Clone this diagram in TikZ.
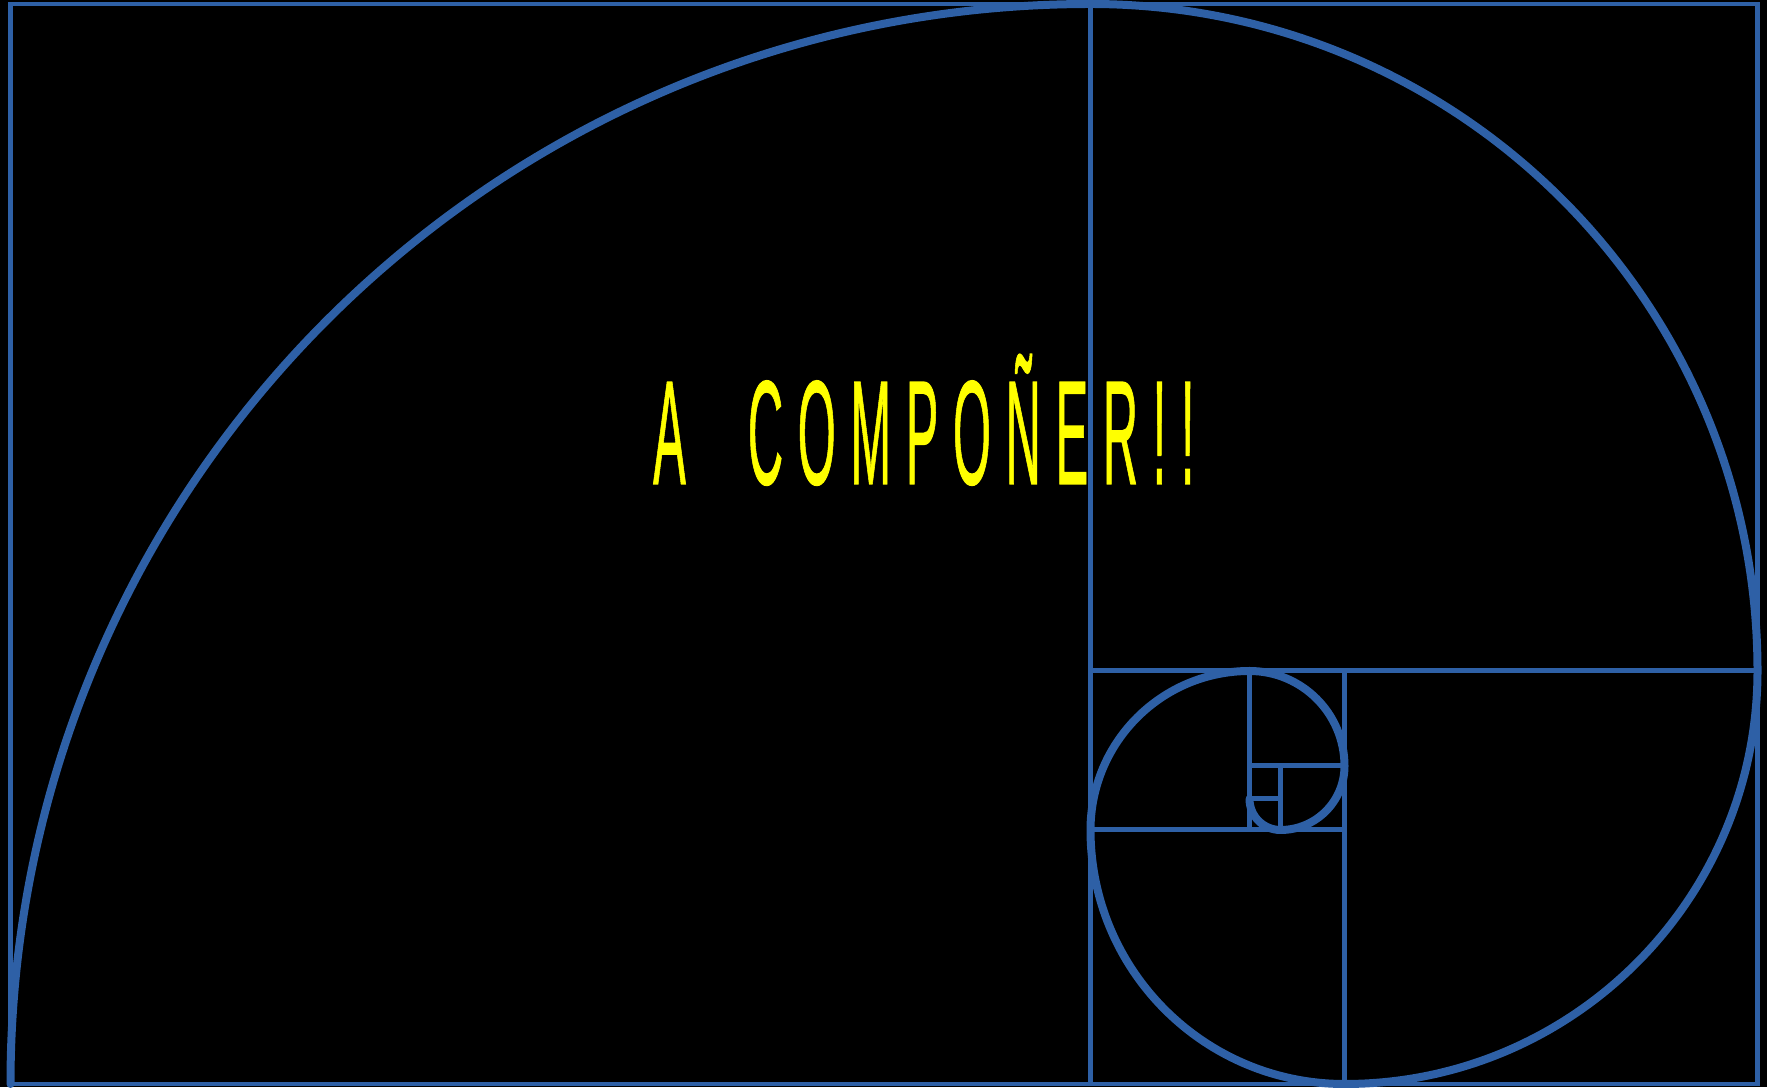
\documentclass[tikz,border=0pt]{standalone}
\usepackage{fontspec}
\setmainfont{Liberation Sans}
\newfontfamily\titlefont[LetterSpace=30,WordSpace=2.2,FakeBold=1]{Liberation Sans}
\definecolor{spiralblue}{RGB}{46,96,166}
\definecolor{textyellow}{RGB}{255,255,0}
\begin{document}
\begin{tikzpicture}[x=1pt,y=1pt,
  gridline/.style={draw=spiralblue,line width=5pt},
  framebox/.style={draw=spiralblue,line width=4.5pt},
  spiralline/.style={draw=spiralblue,line width=8pt,line cap=round},
  titlelabel/.style={text=textyellow,inner sep=0pt,font=\titlefont\fontsize{148}{150}\selectfont}]
\fill[black] (0,0) rectangle (1767,1087);
\useasboundingbox (0,0) rectangle (1767,1087);
% squares
\draw[gridline] (1090.5,3) -- (1090.5,1083);
\draw[gridline] (1090.5,416) -- (1757.5,416);
\draw[gridline] (1344.5,3) -- (1344.5,416);
\draw[gridline] (1090.5,257) -- (1344.5,257);
\draw[gridline] (1249.5,257) -- (1249.5,416);
\draw[gridline] (1249.5,321) -- (1344.5,321);
\draw[gridline] (1280.5,257) -- (1280.5,321);
\draw[gridline] (1249.5,288) -- (1280.5,288);
\draw[framebox] (10.5,3) rectangle (1757.5,1083);
% spiral
\draw[spiralline] (10.5,3)
  arc[start angle=180,end angle=90,radius=1080]
  arc[start angle=90,end angle=0,radius=667]
  arc[start angle=0,end angle=-90,radius=413]
  arc[start angle=-90,end angle=-180,radius=254]
  arc[start angle=180,end angle=90,radius=159]
  arc[start angle=90,end angle=0,radius=95]
  arc[start angle=0,end angle=-90,radius=64]
  arc[start angle=-90,end angle=-180,radius=31];
% title
\node[titlelabel,anchor=base west] (title) at (653,603) {\scalebox{0.33}[1]{A COMPOÑER!!}};
\end{tikzpicture}
\end{document}
